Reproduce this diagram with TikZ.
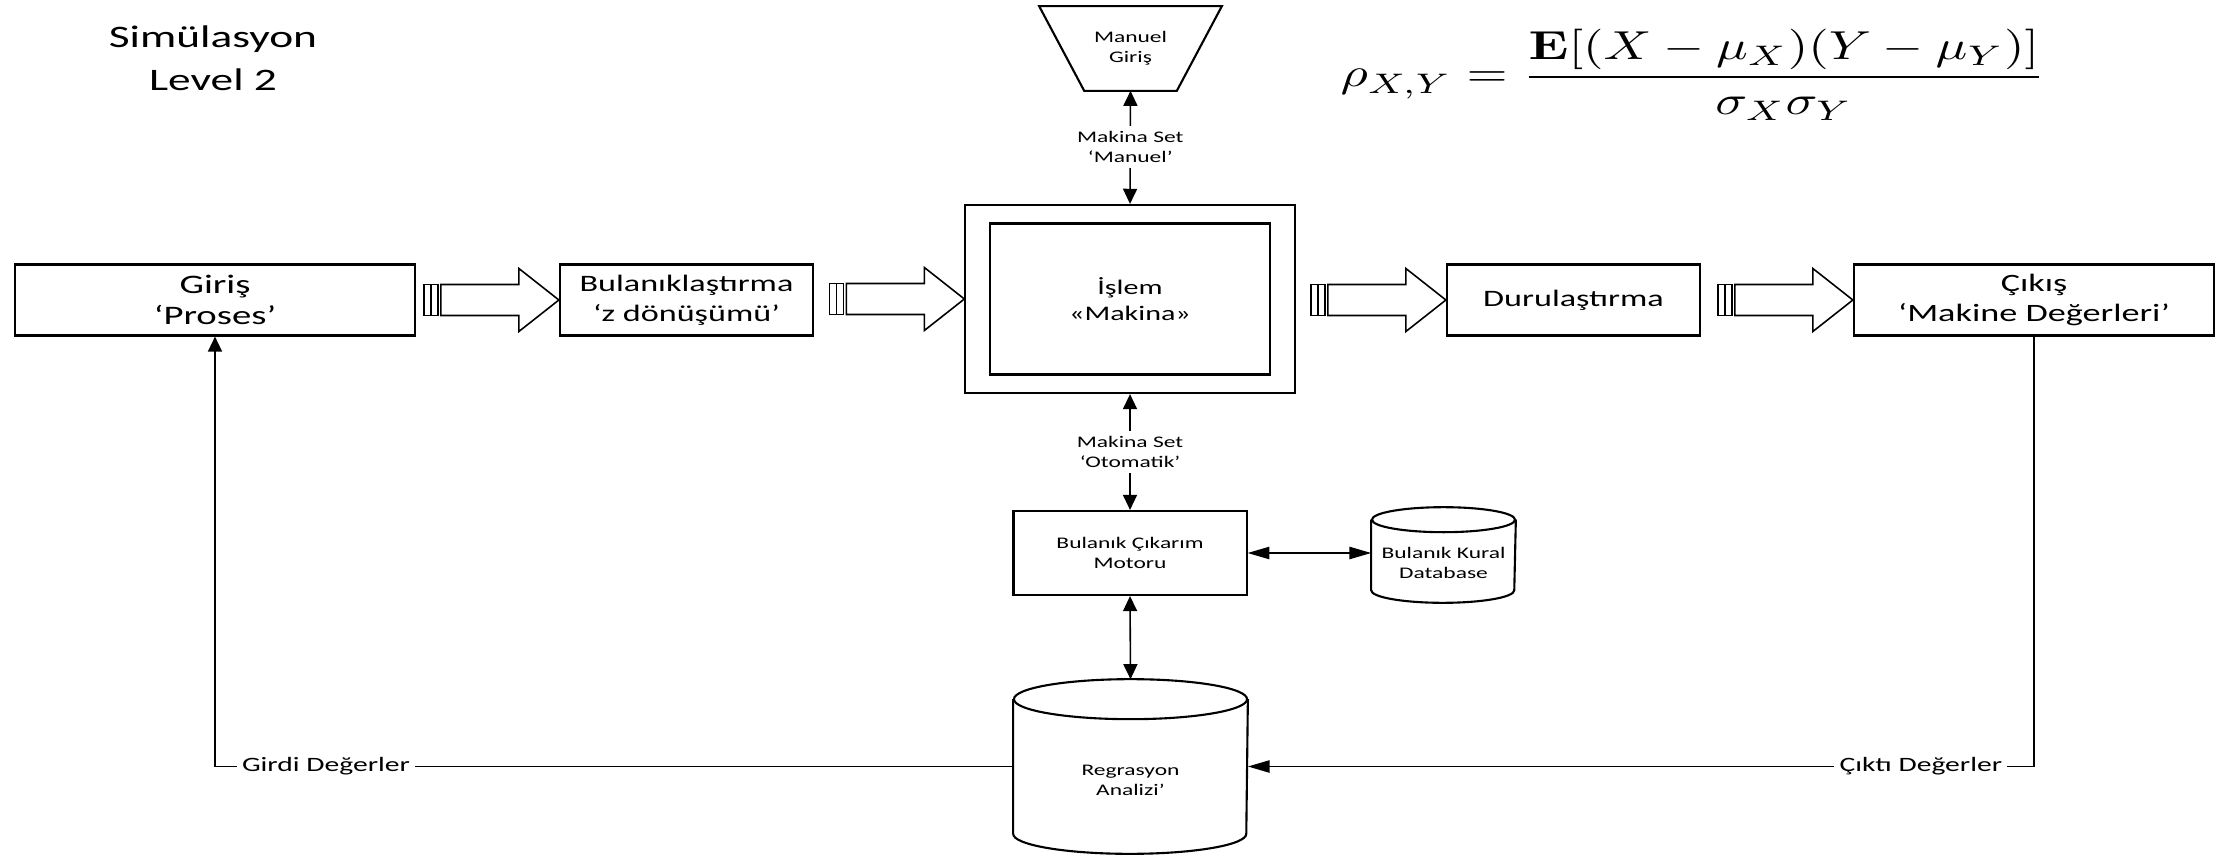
\documentclass[tikz,border=0pt]{standalone}
\usepackage{amsmath}
\usepackage[no-math]{fontspec}
\setmainfont{Carlito}[FakeStretch=1.45]
\usepackage{tikz}
\usetikzlibrary{shapes.geometric, arrows.meta, positioning, calc}

% cylinder outline round a node: node, half width, cap radius
\newcommand{\silindir}[3]{%
  \draw[line width=0.6pt] ($(#1.north)+(0,-#3)$) ellipse [x radius=#2, y radius=#3];
  \draw[line width=0.6pt] ($(#1.north west)+(0,-#3)$) -- ($(#1.south west)+(0,#3)$)
      arc[start angle=180, end angle=360, x radius=#2, y radius=#3] -- ($(#1.north east)+(0,-#3)$);
}

\begin{document}
\begin{tikzpicture}[
    x=0.01cm, y=-0.01cm,
    >={Triangle[length=4.3pt, width=4pt]},
    line width=0.45pt,
    yatay/.style={>={Triangle[length=6.2pt, width=3.5pt]}},
    blok/.style={draw, line width=0.6pt, minimum height=0.71cm, align=center, inner sep=2pt, font=\fontsize{6.7}{8.6}\selectfont},
    kucuk/.style={font=\fontsize{4.6}{5.7}\selectfont, align=center},
    orta/.style={font=\fontsize{5.8}{7}\selectfont},
    etiket/.style={kucuk, fill=white, inner sep=1.5pt},
    blokok/.pic={
        \draw (-135,-15.5) rectangle (-128,15.5);
        \draw (-128,-15.5) rectangle (-121,15.5);
        \draw (-118,-15.5) -- (-40,-15.5) -- (-40,-31.5) -- (0,0) -- (-40,31.5) -- (-40,15.5) -- (-118,15.5) -- cycle;
    }
]
\useasboundingbox (0,0) rectangle (2234,855);

% ── Title and formula ──
\node[font=\fontsize{8.9}{12.2}\selectfont, align=center] (baslik) at (213,58) {Simülasyon\\Level 2};
\node[xscale=1.50, yscale=1.15, transform shape] (formul) at (1693,75)
    {$\displaystyle \rho_{X,Y}=\frac{\mathbf{E}[(X-\mu_X)(Y-\mu_Y)]}{\sigma_X\sigma_Y}$};

% ── Main row ──
\node[blok, minimum width=4.0cm, font=\fontsize{7.6}{8.6}\selectfont] (gir) at (215,300) {Giriş\\‘Proses’};
\node[blok, minimum width=2.53cm] (bul) at (686.5,300) {Bulanıklaştırma\\‘z dönüşümü’};
\node[draw, line width=0.6pt, minimum width=3.29cm, minimum height=1.88cm] (mak) at (1130,299) {};
\node[draw, line width=0.6pt, minimum width=2.8cm, minimum height=1.51cm, align=center,
      font=\fontsize{5.9}{7.4}\selectfont] (ic) at (mak.center) {İşlem\\«Makina»};
\node[blok, minimum width=2.53cm] (dur) at (1573.5,300) {Durulaştırma};
\node[blok, minimum width=3.60cm, font=\fontsize{7.1}{8.6}\selectfont] (cik) at (2034,300) {Çıkış\\‘Makine Değerleri’};

% ── Manual input ──
\node[kucuk, minimum width=1.81cm, minimum height=0.83cm, inner sep=0pt] (man) at (1130.5,48.5) {Manuel\\Giriş};
\draw[line width=0.6pt] (man.north west) -- (man.north east) -- ($(man.south east)+(-0.45cm,0)$)
    -- ($(man.south west)+(0.45cm,0)$) -- cycle;

% ── Inference and data ──
\node[blok, kucuk, minimum width=2.33cm, minimum height=0.84cm] (mot) at (1130,553) {Bulanık Çıkarım\\Motoru};
\node[minimum width=1.43cm, minimum height=0.94cm, inner sep=0pt,
      label={[kucuk, yshift=-0.08cm]center:Bulanık Kural\\Database}] (db) at (1443.5,555) {};
\node[minimum width=2.33cm, minimum height=1.73cm, inner sep=0pt,
      label={[kucuk, yshift=-0.14cm]center:Regrasyon\\Analizi’}] (reg) at (1130.5,766.5) {};
\silindir{db}{0.715cm}{0.125cm}
\silindir{reg}{1.165cm}{0.2cm}

% ── Block arrows ──
\pic at (bul.west) {blokok};
\pic at (mak.west) {blokok};
\pic at (dur.west) {blokok};
\pic at (cik.west) {blokok};

% ── Connectors ──
\draw[<->] (man.south) -- node[etiket] {Makina Set\\‘Manuel’} (mak.north);
\draw[<->] (mak.south) -- node[etiket] {Makina Set\\‘Otomatik’} (mot.north);
\draw[<->, yatay] (mot.east) -- (mot.east -| db.west);
\draw[<->] (mot.south) -- (reg.north);
\draw[->] (reg.west) -- node[pos=0.861, etiket, orta] {Girdi Değerler} (gir.south |- reg.west) -- (gir.south);
\draw[->, yatay] (cik.south) -- (cik.south |- reg.east) -- node[pos=0.144, etiket, orta] {Çıktı Değerler} (reg.east);
\end{tikzpicture}
\end{document}
